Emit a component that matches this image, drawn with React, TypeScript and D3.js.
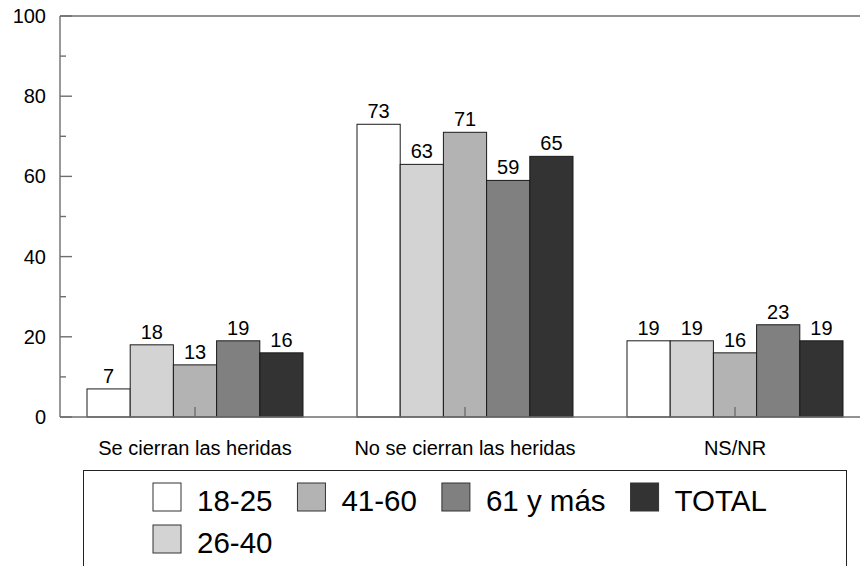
import React from "react";
import * as d3 from "d3";

const categories = ["Se cierran las heridas", "No se cierran las heridas", "NS/NR"];
const seriesNames = ["18-25", "26-40", "41-60", "61 y más", "TOTAL"];
const seriesColors = ["#ffffff", "#d3d3d3", "#b3b3b3", "#808080", "#333333"];
const v1825 = [7, 73, 19];
const v2640 = [18, 63, 19];
const v4160 = [13, 71, 16];
const v61 = [19, 59, 23];
const vTotal = [16, 65, 19];
const seriesValues = [v1825, v2640, v4160, v61, vTotal];
const yTicksMajor = [0, 20, 40, 60, 80, 100];
const yTicksMinor = [10, 30, 50, 70, 90];
const legendRow1 = ["18-25", "41-60", "61 y más", "TOTAL"];
const legendRow2 = ["26-40"];

const FONT = "'Liberation Sans', Arial, Helvetica, sans-serif";

function measure(text: string, size: number): number {
  const c = document.createElement("canvas");
  const ctx = c.getContext("2d");
  if (!ctx) return text.length * size * 0.55;
  ctx.font = `${size}px ${FONT}`;
  return ctx.measureText(text).width;
}

export default function App() {
  const W = 860;
  const H = 566;
  const left = 60;
  const top = 16;
  const bottom = 417;

  const y = d3.scaleLinear().domain([0, 100]).range([bottom, top]);
  const x0 = d3.scaleBand<string>().domain(categories).range([60, 870]).paddingInner(0.2).paddingOuter(0.1);
  const x1 = d3.scaleBand<string>().domain(seriesNames).range([0, x0.bandwidth()]);

  const axisColor = "#6e6e6e";

  const legendItems: { name: string; x: number; row: number }[] = [];
  const swatch = 28;
  const legendFont = 29.5;
  [legendRow1, legendRow2].forEach((row, ri) => {
    let cx = 153;
    row.forEach((name) => {
      legendItems.push({ name, x: cx, row: ri });
      cx += swatch + 16 + measure(name, legendFont) + 25;
    });
  });
  const rowSwatchY = [483, 525];

  return (
    <svg
      width={W}
      height={H}
      style={{ position: "absolute", left: 0, top: 0, background: "#fff" }}
      fontFamily={FONT}
    >
      <rect x={0} y={0} width={W} height={H} fill="#fff" />
      {/* frame top line */}
      <line x1={left} x2={W} y1={top} y2={top} stroke={axisColor} strokeWidth={1.4} />
      {/* y axis */}
      <line x1={left} x2={left} y1={top} y2={bottom} stroke={axisColor} strokeWidth={1.4} />
      {yTicksMajor.map((t) => (
        <g key={"M" + t}>
          <line x1={left} x2={left + 12} y1={y(t)} y2={y(t)} stroke={axisColor} strokeWidth={1.4} />
          <text x={46} y={y(t)} textAnchor="end" dominantBaseline="central" fontSize={20} fill="#000">
            {t}
          </text>
        </g>
      ))}
      {yTicksMinor.map((t) => (
        <line key={"m" + t} x1={left} x2={left + 6} y1={y(t)} y2={y(t)} stroke={axisColor} strokeWidth={1.4} />
      ))}
      {/* bars */}
      {categories.map((cat, ci) => (
        <g key={cat} transform={`translate(${x0(cat)},0)`}>
          {seriesNames.map((s, si) => {
            const v = seriesValues[si][ci];
            const bx = x1(s) as number;
            return (
              <g key={s}>
                <rect
                  x={bx}
                  y={y(v)}
                  width={x1.bandwidth()}
                  height={bottom - y(v)}
                  fill={seriesColors[si]}
                  stroke="#1a1a1a"
                  strokeWidth={1}
                />
                <text x={bx + x1.bandwidth() / 2} y={y(v) - 6} textAnchor="middle" fontSize={20} fill="#000">
                  {v}
                </text>
              </g>
            );
          })}
        </g>
      ))}
      {/* x axis */}
      <line x1={left} x2={W} y1={bottom} y2={bottom} stroke={axisColor} strokeWidth={1.4} />
      {categories.map((cat) => {
        const cx = (x0(cat) as number) + x0.bandwidth() / 2;
        return (
          <g key={"x" + cat}>
            <line x1={cx} x2={cx} y1={bottom} y2={bottom - 10} stroke={axisColor} strokeWidth={1.4} />
            <text x={cx} y={448} textAnchor="middle" dominantBaseline="central" fontSize={20} fill="#000">
              {cat}
            </text>
          </g>
        );
      })}
      {/* legend */}
      <rect x={83.5} y={470.5} width={763} height={140} fill="#fff" stroke="#222" strokeWidth={1} />
      {legendItems.map((it) => {
        const si = seriesNames.indexOf(it.name);
        const sy = rowSwatchY[it.row];
        return (
          <g key={"l" + it.name}>
            <rect x={it.x} y={sy} width={swatch} height={swatch} fill={seriesColors[si]} stroke="#333" strokeWidth={1} />
            <text x={it.x + swatch + 16} y={sy + 28} fontSize={legendFont} fill="#000">
              {it.name}
            </text>
          </g>
        );
      })}
    </svg>
  );
}
